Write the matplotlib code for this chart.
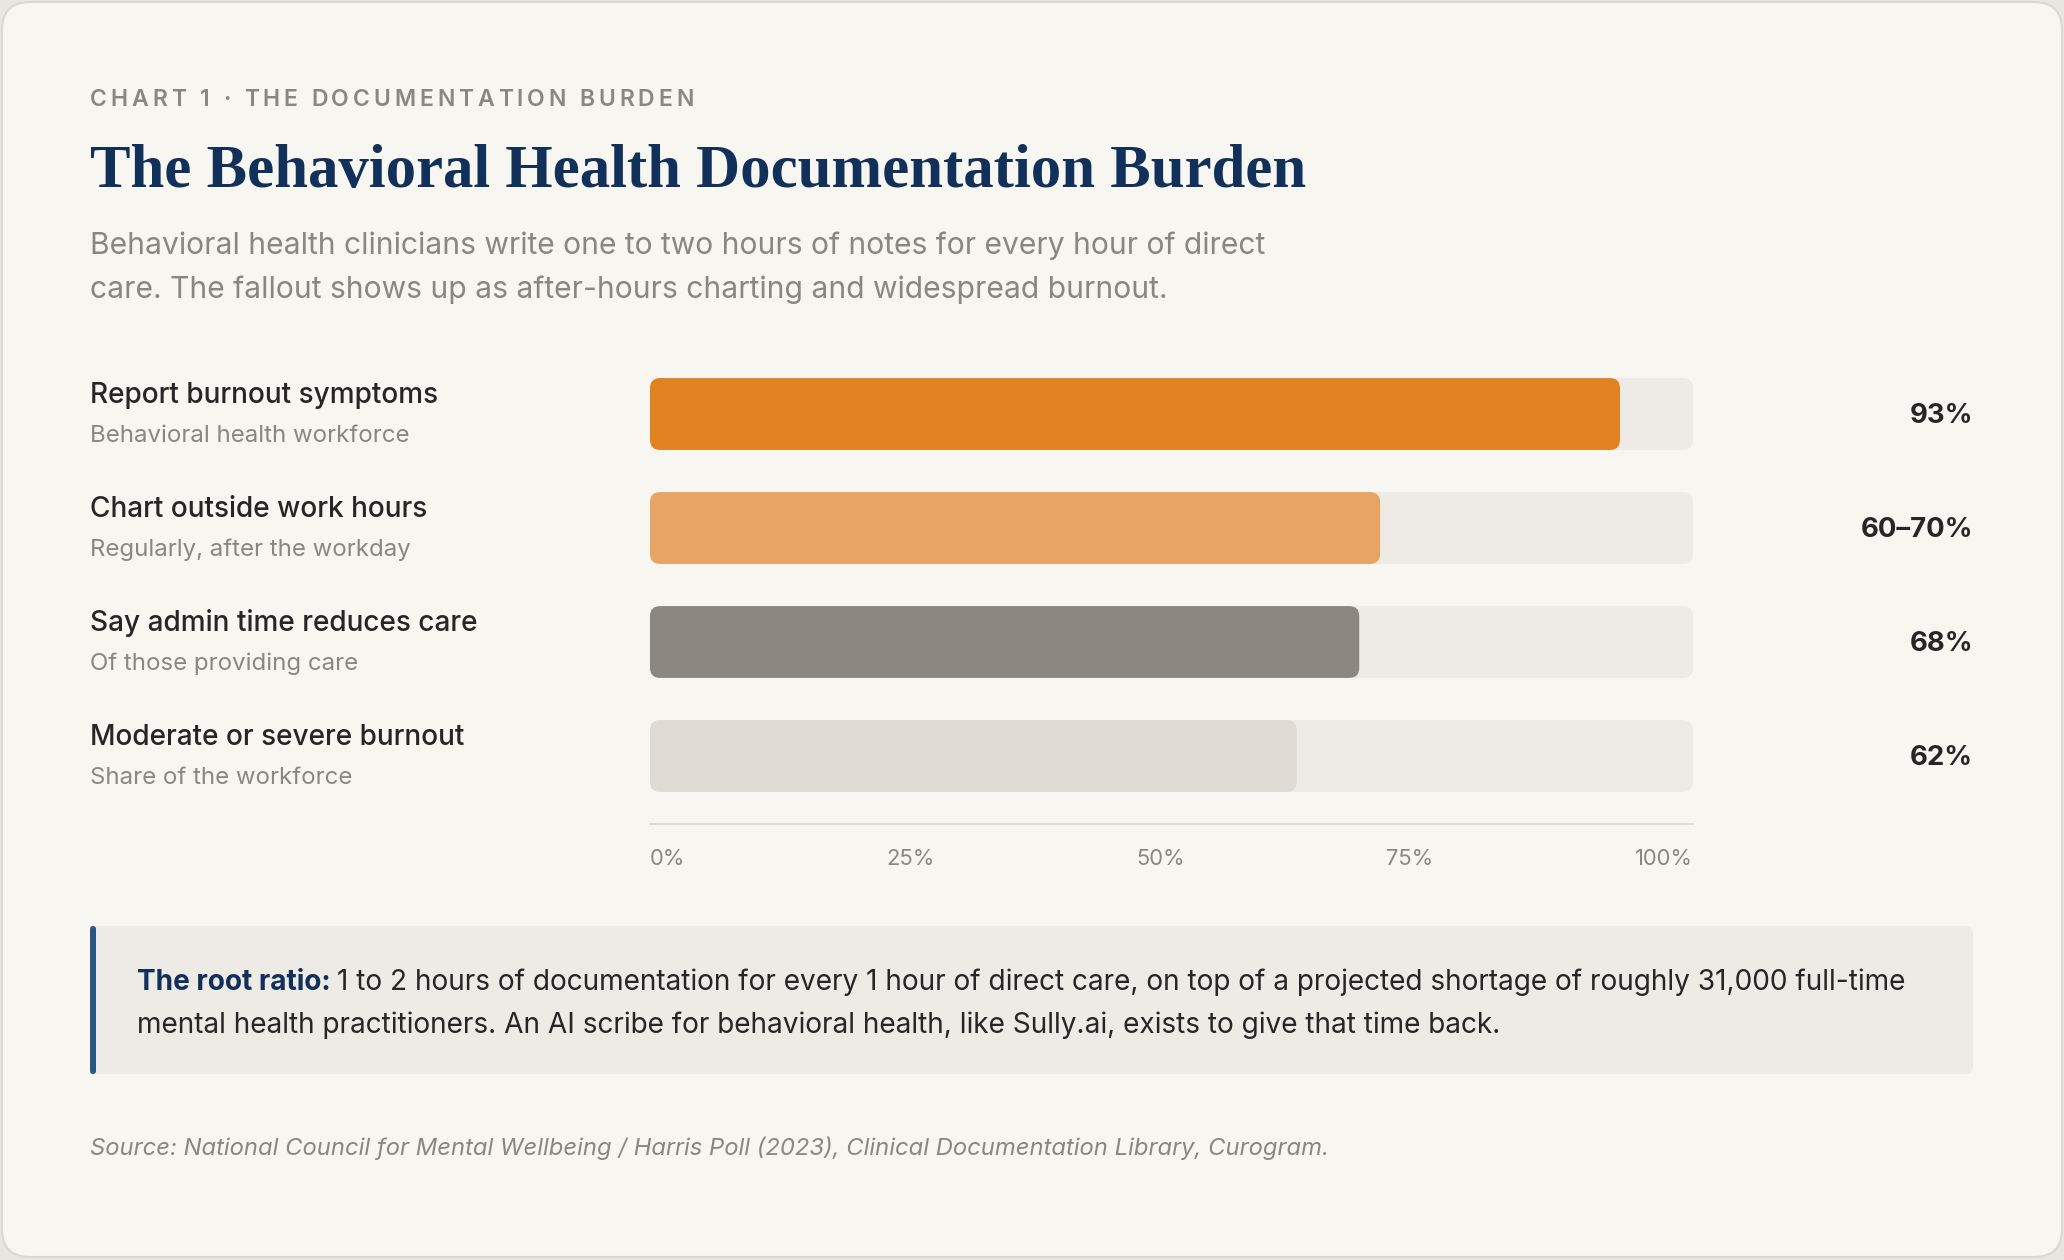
"""
Chart 1: the behavioral health documentation burden, as a card with
rounded horizontal bars, a callout box and a source line.
"""

import matplotlib.pyplot as plt
from matplotlib import transforms
from matplotlib.patches import FancyBboxPatch

plt.rcParams['font.family'] = ['Inter', 'DejaVu Sans']

# data
eyebrow = "CHART 1 \u00b7 THE DOCUMENTATION BURDEN"
title = "The Behavioral Health Documentation Burden"
subtitle = ["Behavioral health clinicians write one to two hours of notes for every hour of direct",
            "care. The fallout shows up as after-hours charting and widespread burnout."]
labels = ["Report burnout symptoms", "Chart outside work hours",
          "Say admin time reduces care", "Moderate or severe burnout"]
sublabels = ["Behavioral health workforce", "Regularly, after the workday",
             "Of those providing care", "Share of the workforce"]
values = [93, 70, 68, 62]
value_text = ["93%", "60\u201370%", "68%", "62%"]
bar_colors = ["#e08122", "#e8a465", "#8c8781", "#dfdad3"]
ticks = [0, 25, 50, 75, 100]
tick_labels = ["0%", "25%", "50%", "75%", "100%"]
callout_lead = "The root ratio:"
callout_lines = ["1 to 2 hours of documentation for every 1 hour of direct care, on top of a "
                 "projected shortage of roughly 31,000 full-time",
                 "mental health practitioners. An AI scribe for behavioral health, like "
                 "Sully.ai, exists to give that time back."]
source = ("Source: National Council for Mental Wellbeing / Harris Poll (2023), "
          "Clinical Documentation Library, Curogram.")

# colours
navy = "#11315a"
grey = "#8b8680"
dark = "#262626"
track = "#eeebe6"
PT = 0.72  # points per pixel at dpi 100

W, H = 2064, 1260
fig = plt.figure(figsize=(W / 100, H / 100), dpi=100, facecolor="#e9e6e0")

# background axes in pixel units (y down)
bg = fig.add_axes([0, 0, 1, 1])
bg.set_xlim(0, W)
bg.set_ylim(H, 0)
bg.axis("off")

bg.add_patch(FancyBboxPatch((2, 2), W - 4, H - 5,
                            boxstyle="round,pad=0,rounding_size=28",
                            fc="#f7f6f1", ec="#dcd8d1", lw=1.5))

fig.canvas.draw()
renderer = fig.canvas.get_renderer()


def text_width(s, **kw):
    t = bg.text(0, 0, s + ".", **kw)
    dot = bg.text(0, 0, ".", **kw)
    w = (t.get_window_extent(renderer).width
         - dot.get_window_extent(renderer).width)
    t.remove()
    dot.remove()
    return w


# eyebrow with letter spacing
eb_kw = dict(fontsize=23 * PT, color=grey, fontweight="semibold")
for i, ch in enumerate(eyebrow):
    x = 90 + text_width(eyebrow[:i], **eb_kw) + i * 3.9
    bg.text(x, 106, ch, va="baseline", ha="left", **eb_kw)

bg.text(90, 187, title, family=["Liberation Serif", "DejaVu Serif"],
        fontweight="bold", fontsize=60.8 * PT, color=navy, va="baseline")

for i, line in enumerate(subtitle):
    bg.text(90, 254 + i * 44, line, fontsize=30 * PT, color=grey,
            va="baseline")

# bar axes
rows = list(range(len(values)))
ax = fig.add_axes([650 / W, 1 - 813 / H, 1043 / W, 456 / H])
ax.set_facecolor("none")
ax.set_xlim(0, 100)
ax.set_ylim(3.5, -0.5)
for s in ["top", "left", "right"]:
    ax.spines[s].set_visible(False)
ax.spines["bottom"].set_color("#dfdad3")
ax.spines["bottom"].set_linewidth(2 * PT)
ax.spines["bottom"].set_position(("outward", 11 * PT))
ax.set_yticks([])
ax.set_xticks(ticks, [""] * len(ticks))
ax.tick_params(axis="x", length=0)

back = ax.barh(rows, [100] * len(rows), height=0.63, color=track)
front = ax.barh(rows, values, height=0.63, color=bar_colors)

# swap the plain bars for rounded ones
fig.canvas.draw()
px_x = ax.transData.transform((1, 0))[0] - ax.transData.transform((0, 0))[0]
px_y = abs(ax.transData.transform((0, 1))[1] - ax.transData.transform((0, 0))[1])
aspect = px_x / px_y
for bars in (back, front):
    for r in bars:
        x0, y0 = r.get_x(), r.get_y()
        w, h = r.get_width(), r.get_height()
        r.set_visible(False)
        ax.add_patch(FancyBboxPatch((x0, y0), w, h,
                                    boxstyle=f"round,pad=0,rounding_size={10 / px_x}",
                                    mutation_aspect=aspect,
                                    fc=r.get_facecolor(), ec="none"))

# tick labels spread edge to edge (space-between)
tk_kw = dict(fontsize=22 * PT, color=grey)
tk_w = [text_width(t, **tk_kw) for t in tick_labels]
axw = ax.get_window_extent(renderer).width
gap = (axw - sum(tk_w)) / (len(tk_w) - 1)
tick_tr = transforms.blended_transform_factory(ax.transAxes, bg.transData)
x = 0
for t, w in zip(tick_labels, tk_w):
    ax.text(x / axw, 865, t, transform=tick_tr, ha="left", va="baseline",
            clip_on=False, **tk_kw)
    x += w + gap

# labels and values
lab = transforms.blended_transform_factory(bg.transData, ax.transData)
for i in rows:
    ax.annotate(labels[i], xy=(90, i), xycoords=lab, xytext=(0, 11),
                textcoords="offset pixels", va="baseline", ha="left",
                fontsize=28 * PT, color=dark, fontweight="medium",
                annotation_clip=False)
    ax.annotate(sublabels[i], xy=(90, i), xycoords=lab, xytext=(0, -28),
                textcoords="offset pixels", va="baseline", ha="left",
                fontsize=24 * PT, color=grey, annotation_clip=False)
    ax.annotate(value_text[i], xy=(1973, i), xycoords=lab, xytext=(0, -9),
                textcoords="offset pixels", va="baseline", ha="right",
                fontsize=27.5 * PT, color=dark, fontweight="bold",
                annotation_clip=False)

# callout box
bg.add_patch(FancyBboxPatch((90, 926), 1883, 148,
                            boxstyle="round,pad=0,rounding_size=8",
                            fc=track, ec="none"))
bg.add_patch(FancyBboxPatch((90, 926), 6, 148,
                            boxstyle="round,pad=0,rounding_size=3",
                            fc="#2b5783", ec="none"))
co_kw = dict(fontsize=28 * PT, va="baseline")
bg.text(137, 990, callout_lead, color=navy, fontweight="bold", **co_kw)
lead_w = text_width(callout_lead + " ", fontweight="bold", **co_kw)
bg.text(137 + lead_w, 990, callout_lines[0], color=dark, **co_kw)
bg.text(137, 1033, callout_lines[1], color=dark, **co_kw)

bg.text(90, 1155, source, fontsize=23.8 * PT, color=grey, style="italic",
        va="baseline")

fig.savefig("out.png", dpi=100, facecolor=fig.get_facecolor())
plt.close(fig)
